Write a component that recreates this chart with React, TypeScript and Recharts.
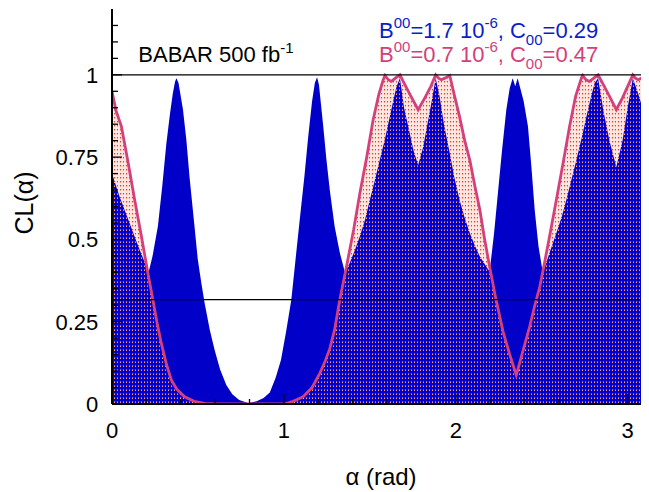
import React from "react";
import { ComposedChart, Area, XAxis, YAxis, ReferenceLine } from "recharts";

// alpha (rad) and CL for B00=1.7e-6, C00=0.29 (blue)
const blueAlpha = [0, 0.044, 0.095, 0.145, 0.213, 0.236, 0.267, 0.292, 0.316, 0.337, 0.354, 0.367, 0.375, 0.387, 0.413, 0.433, 0.451, 0.478, 0.499, 0.519, 0.539, 0.569, 0.597, 0.629, 0.665, 0.7, 0.74, 0.791, 0.841, 0.882, 0.918, 0.952, 0.983, 1.013, 1.043, 1.068, 1.092, 1.119, 1.141, 1.164, 1.18, 1.193, 1.204, 1.229, 1.248, 1.267, 1.295, 1.325, 1.355, 1.383, 1.411, 1.442, 1.472, 1.5, 1.527, 1.557, 1.588, 1.616, 1.638, 1.655, 1.675, 1.699, 1.729, 1.754, 1.781, 1.81, 1.835, 1.86, 1.883, 1.906, 1.931, 1.965, 1.991, 2.022, 2.052, 2.082, 2.112, 2.14, 2.168, 2.197, 2.223, 2.245, 2.269, 2.294, 2.314, 2.331, 2.346, 2.36, 2.375, 2.395, 2.42, 2.44, 2.459, 2.481, 2.506, 2.526, 2.546, 2.585, 2.617, 2.643, 2.672, 2.701, 2.733, 2.76, 2.788, 2.808, 2.828, 2.859, 2.894, 2.934, 2.97, 3.0, 3.03, 3.06, 3.089, 3.121, 3.1416];
const blueCL = [0.7, 0.63, 0.56, 0.49, 0.4, 0.45, 0.54, 0.66, 0.79, 0.88, 0.944, 0.98, 0.99, 0.975, 0.894, 0.8, 0.69, 0.55, 0.44, 0.37, 0.306, 0.225, 0.164, 0.105, 0.058, 0.03, 0.012, 0.003, 0.008, 0.018, 0.035, 0.08, 0.134, 0.22, 0.316, 0.44, 0.559, 0.69, 0.81, 0.92, 0.975, 0.993, 0.97, 0.843, 0.74, 0.65, 0.54, 0.46, 0.4, 0.428, 0.465, 0.51, 0.56, 0.62, 0.675, 0.74, 0.805, 0.873, 0.925, 0.964, 0.99, 0.9, 0.83, 0.77, 0.726, 0.78, 0.85, 0.92, 0.99, 0.934, 0.85, 0.762, 0.69, 0.62, 0.565, 0.519, 0.48, 0.448, 0.425, 0.402, 0.52, 0.64, 0.77, 0.894, 0.96, 0.99, 0.965, 0.99, 0.96, 0.92, 0.843, 0.72, 0.59, 0.48, 0.4, 0.428, 0.46, 0.519, 0.57, 0.62, 0.68, 0.74, 0.81, 0.873, 0.935, 0.975, 0.99, 0.89, 0.8, 0.72, 0.8, 0.9, 0.99, 0.945, 0.894, 0.79, 0.7];

// alpha (rad) and CL for B00=0.7e-6, C00=0.47 (pink)
const pinkAlpha = [0, 0.024, 0.055, 0.095, 0.132, 0.171, 0.209, 0.238, 0.261, 0.287, 0.317, 0.345, 0.377, 0.423, 0.478, 0.539, 0.599, 1.003, 1.053, 1.112, 1.164, 1.209, 1.24, 1.267, 1.295, 1.325, 1.364, 1.406, 1.442, 1.482, 1.519, 1.552, 1.578, 1.588, 1.608, 1.626, 1.648, 1.675, 1.709, 1.744, 1.781, 1.82, 1.855, 1.883, 1.9, 1.916, 1.936, 1.965, 1.991, 2.022, 2.052, 2.082, 2.112, 2.14, 2.168, 2.197, 2.233, 2.275, 2.314, 2.352, 2.39, 2.43, 2.46, 2.489, 2.516, 2.546, 2.585, 2.627, 2.662, 2.697, 2.731, 2.738, 2.758, 2.778, 2.803, 2.828, 2.864, 2.899, 2.934, 2.97, 3.0, 3.03, 3.045, 3.061, 3.081, 3.111, 3.125, 3.1416];
const pinkCL = [0.95, 0.89, 0.843, 0.73, 0.62, 0.51, 0.397, 0.316, 0.25, 0.184, 0.12, 0.073, 0.045, 0.022, 0.008, 0.002, 0, 0, 0.008, 0.022, 0.05, 0.093, 0.13, 0.168, 0.225, 0.316, 0.417, 0.53, 0.64, 0.75, 0.863, 0.94, 0.985, 0.998, 0.985, 0.98, 0.99, 1.0, 0.965, 0.93, 0.894, 0.93, 0.965, 1.0, 0.99, 0.985, 0.99, 0.998, 0.94, 0.873, 0.8, 0.74, 0.66, 0.59, 0.5, 0.417, 0.32, 0.22, 0.15, 0.088, 0.16, 0.235, 0.3, 0.357, 0.428, 0.51, 0.62, 0.74, 0.843, 0.935, 0.99, 0.998, 0.985, 0.98, 0.99, 1.0, 0.965, 0.93, 0.894, 0.93, 0.965, 1.0, 0.99, 0.985, 0.99, 0.998, 0.975, 0.95];

const xTicks = [0, 0.2, 0.4, 0.6, 0.8, 1, 1.2, 1.4, 1.6, 1.8, 2, 2.2, 2.4, 2.6, 2.8, 3];
const xLabels = [0, 1, 2, 3];
const yTicks = [0, 0.05, 0.1, 0.15, 0.2, 0.25, 0.3, 0.35, 0.4, 0.45, 0.5, 0.55, 0.6, 0.65, 0.7, 0.75, 0.8, 0.85, 0.9, 0.95, 1, 1.05, 1.1, 1.15];
const yLabels = [0, 0.25, 0.5, 0.75, 1];
const oneSigmaCL = 0.3173;
const fullCL = 1;

const blueData = blueAlpha.map((a, i) => ({ a, cl: blueCL[i] }));
const pinkData = pinkAlpha.map((a, i) => ({ a, cl: pinkCL[i] }));

const FONT = "'Liberation Sans', Arial, Helvetica, sans-serif";
const BLUE = "#0000c8";
const PINK = "#d4407c";

const isLabel = (v: number, list: number[]) => list.some((l) => Math.abs(l - v) < 1e-6);

const BottomTick = (props: any) => {
  const { x, y, payload } = props;
  const v = payload.value;
  const major = isLabel(v, xLabels);
  const len = major ? 10 : 5;
  return (
    <g>
      <line x1={x} x2={x} y1={y} y2={y - len} stroke="#000" strokeWidth={1.3} />
      {major && (
        <text x={x} y={y + 34} textAnchor="middle" fontSize={22} fontFamily={FONT} fill="#000">
          {String(v)}
        </text>
      )}
    </g>
  );
};

const TopTick = (props: any) => {
  const { x, y, payload } = props;
  const v = payload.value;
  const major = isLabel(v, xLabels);
  const len = major ? 10 : 5;
  return <line x1={x} x2={x} y1={y} y2={y + len} stroke="#000" strokeWidth={1.3} />;
};

const LeftTick = (props: any) => {
  const { x, y, payload } = props;
  const v = payload.value;
  const major = isLabel(v, yLabels);
  const len = major ? 10 : 6;
  return (
    <g>
      <line x1={x} x2={x + len} y1={y} y2={y} stroke="#000" strokeWidth={1.3} />
      {major && (
        <text x={x - 13.7} y={y + 8} textAnchor="end" fontSize={22} fontFamily={FONT} fill="#000">
          {String(v)}
        </text>
      )}
    </g>
  );
};

const RightTick = (props: any) => {
  const { x, y, payload } = props;
  const v = payload.value;
  const major = isLabel(v, yLabels);
  const len = major ? 10 : 6;
  return <line x1={x} x2={x - len} y1={y} y2={y} stroke="#000" strokeWidth={1.3} />;
};

export default function App() {
  return (
    <div style={{ width: 641, height: 484, overflow: "hidden", background: "#fff" }}>
      <ComposedChart
        width={660}
        height={484}
        margin={{ top: 1, right: 16, bottom: 0, left: 0 }}
        style={{ fontFamily: FONT }}
      >
        <defs>
          <pattern id="reddots" x="0" y="0" width="3" height="4" patternUnits="userSpaceOnUse">
            <rect x="1" y="1" width="1" height="1" fill="#ff3030" />
            <rect x="1" y="2" width="1" height="1" fill="#ff9a8a" />
          </pattern>
        </defs>
        <XAxis
          xAxisId="b"
          dataKey="a"
          type="number"
          domain={[0, Math.PI]}
          allowDataOverflow
          ticks={xTicks}
          interval={0}
          tickSize={0}
          tickMargin={0}
          tickLine={false}
          height={88}
          axisLine={{ stroke: "#000", strokeWidth: 2 }}
          tick={<BottomTick />}
        />
        <XAxis
          xAxisId="t"
          orientation="top"
          dataKey="a"
          type="number"
          domain={[0, Math.PI]}
          allowDataOverflow
          ticks={xTicks}
          interval={0}
          tickSize={0}
          tickMargin={0}
          tickLine={false}
          height={0}
          axisLine={{ stroke: "#000", strokeWidth: 2 }}
          tick={<TopTick />}
        />
        <YAxis
          yAxisId="l"
          type="number"
          domain={[0, 1.2]}
          allowDataOverflow
          ticks={yTicks}
          interval={0}
          tickSize={0}
          tickMargin={0}
          tickLine={false}
          width={104}
          axisLine={{ stroke: "#000", strokeWidth: 2 }}
          tick={<LeftTick />}
        />
        <YAxis
          yAxisId="r"
          orientation="right"
          type="number"
          domain={[0, 1.2]}
          allowDataOverflow
          ticks={yTicks}
          interval={0}
          tickSize={0}
          tickMargin={0}
          tickLine={false}
          width={0}
          axisLine={{ stroke: "#000", strokeWidth: 2 }}
          tick={<RightTick />}
        />
        <Area
          xAxisId="b"
          yAxisId="l"
          data={pinkData}
          dataKey="cl"
          type="linear"
          stroke="none"
          fill="#fde6e2"
          fillOpacity={1}
          isAnimationActive={false}
        />
        <Area
          xAxisId="b"
          yAxisId="l"
          data={blueData}
          dataKey="cl"
          type="linear"
          stroke="none"
          fill={BLUE}
          fillOpacity={1}
          isAnimationActive={false}
        />
        <Area
          xAxisId="b"
          yAxisId="l"
          data={pinkData}
          dataKey="cl"
          type="linear"
          stroke={PINK}
          strokeWidth={2.8}
          fill="url(#reddots)"
          fillOpacity={1}
          isAnimationActive={false}
        />
        <ReferenceLine xAxisId="b" yAxisId="l" y={fullCL} stroke="#000" strokeWidth={1.3} />
        <ReferenceLine xAxisId="b" yAxisId="l" y={oneSigmaCL} stroke="#000" strokeWidth={1.3} />
        <text x={130.3} y={54} fontSize={22} fontFamily={FONT} fill="#000">
          BABAR 500 fb<tspan fontSize={15} dy={-9}>-1</tspan>
        </text>
        <text x={371} y={30.3} fontSize={22} fontFamily={FONT} fill="#0a1ec8">
          B<tspan fontSize={15} dy={-10}>00</tspan>
          <tspan dy={10}>=1.7 10</tspan>
          <tspan fontSize={15} dy={-10}>-6</tspan>
          <tspan dy={10}>, C</tspan>
          <tspan fontSize={15} dy={7}>00</tspan>
          <tspan dy={-7}>=0.29</tspan>
        </text>
        <text x={371} y={53.7} fontSize={22} fontFamily={FONT} fill={PINK}>
          B<tspan fontSize={15} dy={-10}>00</tspan>
          <tspan dy={10}>=0.7 10</tspan>
          <tspan fontSize={15} dy={-10}>-6</tspan>
          <tspan dy={10}>, C</tspan>
          <tspan fontSize={15} dy={7}>00</tspan>
          <tspan dy={-7}>=0.47</tspan>
        </text>
        <text x={373} y={477} fontSize={24} fontFamily={FONT} fill="#000" textAnchor="middle">
          α (rad)
        </text>
        <text
          x={25}
          y={195}
          fontSize={25}
          fontFamily={FONT}
          fill="#000"
          textAnchor="middle"
          transform="rotate(-90 25 195)"
        >
          CL(α)
        </text>
      </ComposedChart>
    </div>
  );
}
